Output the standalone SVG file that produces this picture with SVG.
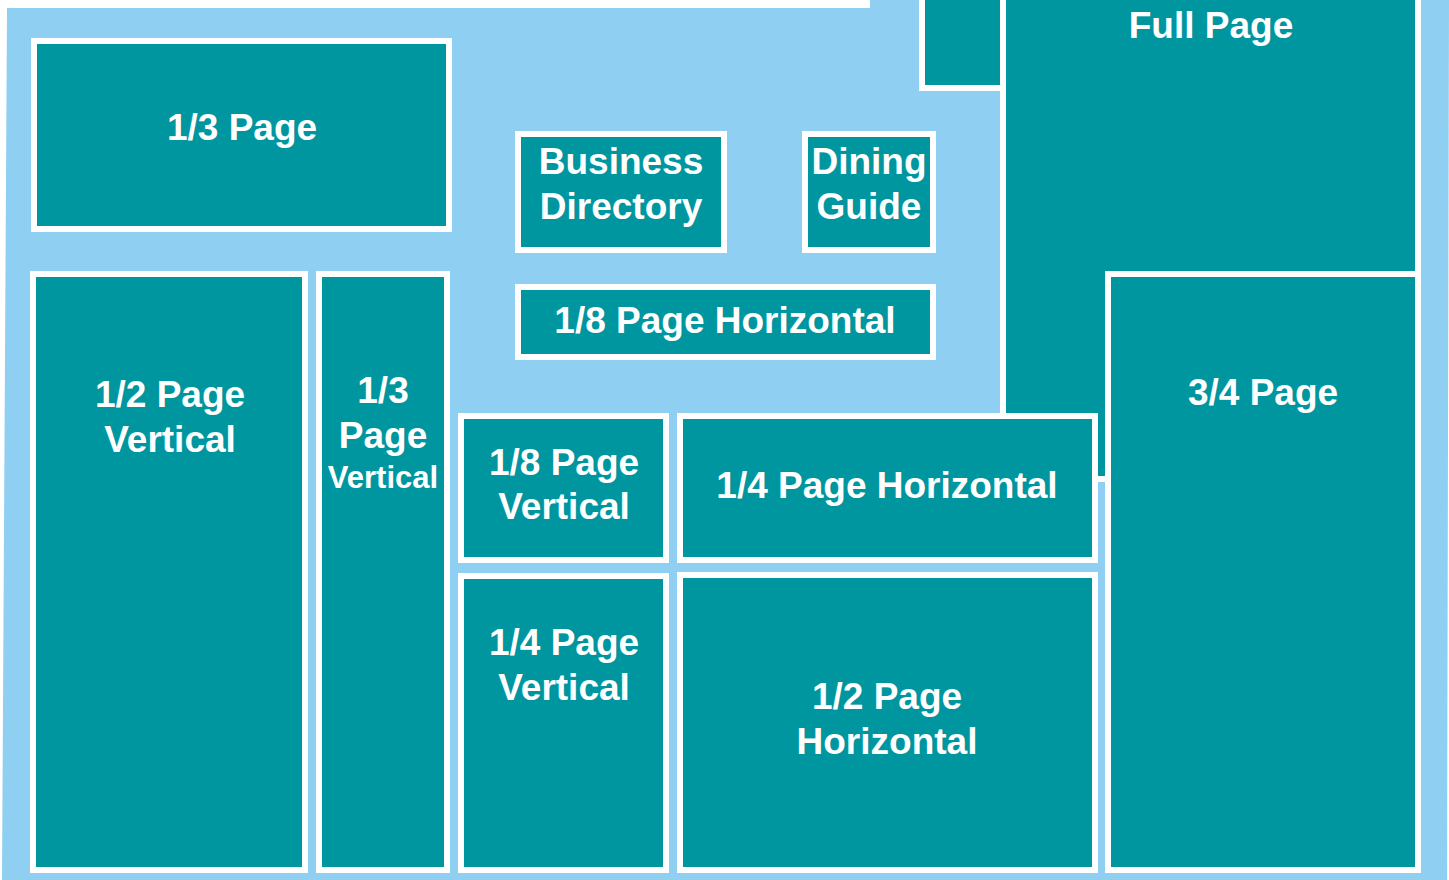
<svg xmlns="http://www.w3.org/2000/svg" width="1449" height="880" viewBox="0 0 1449 880">
<style>
.box{fill:#0096A0;stroke:#FFFFFF;stroke-width:6}
.t{font-family:"Liberation Sans",Arial,sans-serif;font-weight:bold;font-size:37px;fill:#FFFFFF;text-anchor:middle}
.s{font-size:31px}
</style>
<rect x="0" y="0" width="1449" height="880" fill="#FFFFFF"/>
<polygon points="7,8 870,8 870,0 1449,0 1447,880 2,880" fill="#8ECFF2"/>
<g id="third-page"><rect class="box" x="34" y="41" width="415" height="188"/><text class="t" x="242" y="140">1/3 Page</text></g>
<g id="half-page-vertical"><rect class="box" x="33" y="274" width="272" height="596"/><text class="t" x="170" y="407">1/2 Page</text><text class="t" x="170" y="452">Vertical</text></g>
<g id="third-page-vertical"><rect class="box" x="319" y="274" width="128" height="596"/><text class="t" x="383" y="403">1/3</text><text class="t" x="383" y="448">Page</text><text class="t s" x="383" y="488">Vertical</text></g>
<g id="business-directory"><rect class="box" x="518" y="134" width="206" height="116"/><text class="t" x="621" y="174">Business</text><text class="t" x="621" y="219">Directory</text></g>
<g id="dining-guide"><rect class="box" x="805" y="134" width="128" height="116"/><text class="t" x="869" y="174">Dining</text><text class="t" x="869" y="219">Guide</text></g>
<g id="eighth-page-horizontal"><rect class="box" x="518" y="287" width="415" height="70"/><text class="t" x="725" y="333">1/8 Page Horizontal</text></g>
<g id="top-small"><rect class="box" x="922" y="-7" width="81" height="95"/></g>
<g id="full-page"><rect class="box" x="1003" y="-7" width="415" height="486"/><text class="t" x="1211" y="38">Full Page</text></g>
<g id="three-quarter-page"><rect class="box" x="1108" y="274" width="310" height="596"/><text class="t" x="1263" y="405">3/4 Page</text></g>
<g id="eighth-page-vertical"><rect class="box" x="461" y="416" width="205" height="144"/><text class="t" x="564" y="475">1/8 Page</text><text class="t" x="564" y="519">Vertical</text></g>
<g id="quarter-page-horizontal"><rect class="box" x="680" y="416" width="415" height="144"/><text class="t" x="887" y="498">1/4 Page Horizontal</text></g>
<g id="quarter-page-vertical"><rect class="box" x="461" y="576" width="205" height="294"/><text class="t" x="564" y="655">1/4 Page</text><text class="t" x="564" y="700">Vertical</text></g>
<g id="half-page-horizontal"><rect class="box" x="680" y="575" width="415" height="295"/><text class="t" x="887" y="709">1/2 Page</text><text class="t" x="887" y="754">Horizontal</text></g>
<g id="connectors"></g>
</svg>
